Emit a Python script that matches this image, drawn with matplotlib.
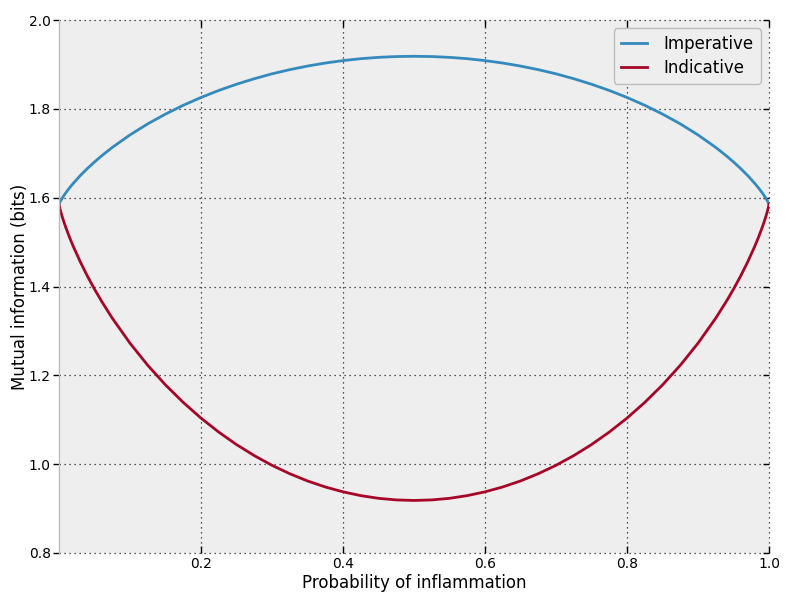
import numpy as np
import matplotlib
matplotlib.use('Agg')
import matplotlib.pyplot as plt
import matplotlib.lines as mlines

# 读图得到的数据 (x: 炎症概率, y: 互信息 bits)
p = [0.0, 0.001, 0.0025, 0.005, 0.0075, 0.01, 0.015, 0.02, 0.03, 0.04, 0.05, 0.06, 0.075,
     0.1, 0.125, 0.15, 0.175, 0.2, 0.225, 0.25, 0.275, 0.3, 0.325, 0.35, 0.375, 0.4, 0.425, 0.45, 0.475,
     0.5,
     0.525, 0.55, 0.575, 0.6, 0.625, 0.65, 0.675, 0.7, 0.725, 0.75, 0.775, 0.8, 0.825, 0.85, 0.875, 0.9,
     0.925, 0.94, 0.95, 0.96, 0.97, 0.98, 0.985, 0.99, 0.9925, 0.995, 0.9975, 0.999, 1.0]
imperative = [1.5850, 1.5888, 1.5934, 1.6001, 1.6062, 1.6119, 1.6224, 1.6321, 1.6498, 1.6657, 1.6804, 1.6941, 1.7131,
              1.7413, 1.7662, 1.7882, 1.8080, 1.8256, 1.8414, 1.8554, 1.8678, 1.8788, 1.8882, 1.8963, 1.9031, 1.9086, 1.9129, 1.9159, 1.9177,
              1.9183,
              1.9177, 1.9159, 1.9129, 1.9086, 1.9031, 1.8963, 1.8882, 1.8788, 1.8678, 1.8554, 1.8414, 1.8256, 1.8080, 1.7882, 1.7662, 1.7413,
              1.7131, 1.6941, 1.6804, 1.6657, 1.6498, 1.6321, 1.6224, 1.6119, 1.6062, 1.6001, 1.5934, 1.5888, 1.5850]
indicative = [1.5850, 1.5774, 1.5682, 1.5547, 1.5425, 1.5311, 1.5100, 1.4907, 1.4554, 1.4234, 1.3940, 1.3667, 1.3288,
              1.2723, 1.2226, 1.1784, 1.1390, 1.1037, 1.0722, 1.0441, 1.0193, 0.9974, 0.9785, 0.9622, 0.9487, 0.9377, 0.9292, 0.9231, 0.9195,
              0.9183,
              0.9195, 0.9231, 0.9292, 0.9377, 0.9487, 0.9622, 0.9785, 0.9974, 1.0193, 1.0441, 1.0722, 1.1037, 1.1390, 1.1784, 1.2226, 1.2723,
              1.3288, 1.3667, 1.3940, 1.4234, 1.4554, 1.4907, 1.5100, 1.5311, 1.5425, 1.5547, 1.5682, 1.5774, 1.5850]

xticks = [0.2, 0.4, 0.6, 0.8, 1.0]
yticks = [0.8, 1.0, 1.2, 1.4, 1.6, 1.8, 2.0]

fig = plt.figure(figsize=(7.86, 5.97), dpi=100)
ax = fig.add_axes([59 / 786, 1 - 553 / 597, 710 / 786, 533 / 597])
ax.set_facecolor('#eeeeee')

ax.plot(p, imperative, color='#348ABD', linewidth=2, label='Imperative')
ax.plot(p, indicative, color='#A60628', linewidth=2, label='Indicative')

ax.set_xlim(0, 1)
ax.set_ylim(0.8, 2.0)
ax.set_xticks(xticks)
ax.set_yticks(yticks)
ax.set_xticklabels(['%.1f' % v for v in xticks])
ax.set_yticklabels(['%.1f' % v for v in yticks])
ax.tick_params(axis='x', direction='in', length=5, width=1, labelsize=10, top=True, color='black', pad=3)
ax.tick_params(axis='y', direction='out', length=4, width=1, labelsize=10, right=True, color='black', pad=2)
# 右侧刻度朝内
for t in ax.yaxis.get_major_ticks():
    t.tick2line.set_marker(mlines.TICKLEFT)

for k in ['top', 'right', 'bottom']:
    ax.spines[k].set_visible(False)
ax.spines['left'].set_color('#bcbcbc')
ax.spines['left'].set_linewidth(1)

ax.grid(True, color='#222222', linestyle=(0, (1, 3)), linewidth=0.9)
# 边界上的网格线当作边框
for gl in ax.get_xgridlines() + ax.get_ygridlines():
    gl.set_clip_on(False)

ax.set_xlabel('Probability of inflammation', fontsize=12, labelpad=2)
ax.set_ylabel('Mutual information (bits)', fontsize=12, labelpad=0)

leg = ax.legend(loc='upper right', fontsize=12, fancybox=True, framealpha=1,
                handlelength=1.6, handletextpad=1.0, labelspacing=0.35, borderaxespad=0.5)
leg.get_frame().set_facecolor('#eeeeee')
leg.get_frame().set_edgecolor('#bcbcbc')

fig.savefig('out.png', dpi=100)
